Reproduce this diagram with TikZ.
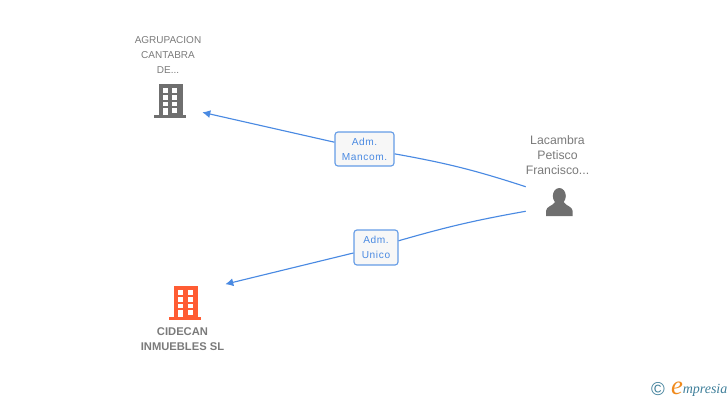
\documentclass[tikz,border=0pt]{standalone}
\usepackage{fontspec}
\setmainfont{Liberation Sans}
\newfontfamily\labelfont[LetterSpace=6]{Liberation Sans}
\newfontfamily\logofont{Liberation Serif}
\usepackage{xcolor}
\usetikzlibrary{arrows.meta}
\definecolor{txtgray}{HTML}{7A7A7A}
\definecolor{icongray}{HTML}{6F6F6F}
\definecolor{iconorange}{HTML}{FF5C33}
\definecolor{linkblue}{HTML}{4A8AE2}
\definecolor{logoteal}{HTML}{3F7F9A}
\definecolor{logoorange}{HTML}{F08A1D}
\newcommand{\buildingicon}[3]{%
\begin{scope}[shift={(#1,#2)}]
\fill[#3] (-11,-16.5) rectangle (12.5,16);
\fill[#3] (-16,14.5) rectangle (16,17.5);
\foreach \wy/\wh in {-12.5/5,-5.5/4.5,1/4.5} {
  \fill[white] (-7.5,\wy) rectangle ++(5.5,\wh);
  \fill[white] (2.3,\wy) rectangle ++(5,\wh);
}
\fill[white] (-7.5,7.5) rectangle (-2,14.5);
\fill[white] (2.3,7.5) rectangle (7.3,12);
\end{scope}}
\tikzset{
  namelabel/.style={text=txtgray,align=center,inner sep=0pt},
  linkbox/.style={draw=linkblue!85!white,line width=0.85pt,rounded corners=2.2pt,fill=white!97!black,
    text=linkblue,align=center,inner sep=0pt,font=\labelfont\fontsize{7.6pt}{11.25pt}\selectfont},
  plainlink/.style={draw=linkblue,line width=0.85pt},
  link/.style={plainlink,-{Latex[length=6pt,width=6pt]}},
  iconspot/.style={draw=none,inner sep=0pt,minimum height=18pt}
}
\begin{document}
\begin{tikzpicture}[x=0.75pt,y=-0.75pt]
\useasboundingbox (0,0) rectangle (728,400);
\node[namelabel,font=\fontsize{7.5pt}{11.25pt}\selectfont] (cantabraname) at (168,55) {AGRUPACION\\CANTABRA\\DE...};
\node[namelabel,font=\fontsize{9.2pt}{11.25pt}\selectfont] (lacambraname) at (557.5,155) {Lacambra\\Petisco\\Francisco...};
\node[namelabel,font=\bfseries\fontsize{8.4pt}{11.25pt}\selectfont] (cidecanname) at (182.5,339) {CIDECAN\\INMUEBLES SL};
% icons
\buildingicon{170}{100.5}{icongray}
\buildingicon{185.3}{302.5}{iconorange}
\fill[icongray] (559.3,196) ellipse (6.5 and 8);
\fill[icongray] (546,216) -- (546,211) .. controls (546.5,206) and (552,206.5) .. (555,202) -- (563.5,202) .. controls (566.5,206.5) and (572,206) .. (572.7,211) -- (572.7,216) -- cycle;
% spots the connectors end at
\node[iconspot,minimum width=48pt] (cantabra) at (170,105) {};
\node[iconspot,minimum width=60pt] (cidecan) at (185,294) {};
\node[iconspot,minimum width=49.5pt] (lacambra) at (559,199) {};
\node[linkbox,minimum width=44.25pt,minimum height=25.5pt] (mancom) at (364.5,149) {Adm.\\Mancom.};
\node[linkbox,minimum width=33pt,minimum height=26.25pt] (unico) at (376,247.5) {Adm.\\Unico};
\draw[plainlink] (lacambra.north west) to[bend right=4] (mancom);
\draw[link] (mancom) -- (cantabra);
\draw[plainlink] (lacambra.south west) to[bend right=3] (unico);
\draw[link] (unico) -- (cidecan);
% logo
\node[inner sep=0pt,text=logoteal,font=\fontsize{14pt}{14pt}\selectfont] (logoc) at (658,389) {©};
\node[inner sep=0pt,text=logoorange,font=\logofont\itshape\fontsize{20pt}{20pt}\selectfont] (logoe) at (677,388.5) {e};
\node[inner sep=0pt,anchor=base west,text=logoteal,font=\logofont\itshape\fontsize{10.5pt}{12pt}\selectfont] (logotxt) at (682.5,393) {mpresia};
\end{tikzpicture}
\end{document}
